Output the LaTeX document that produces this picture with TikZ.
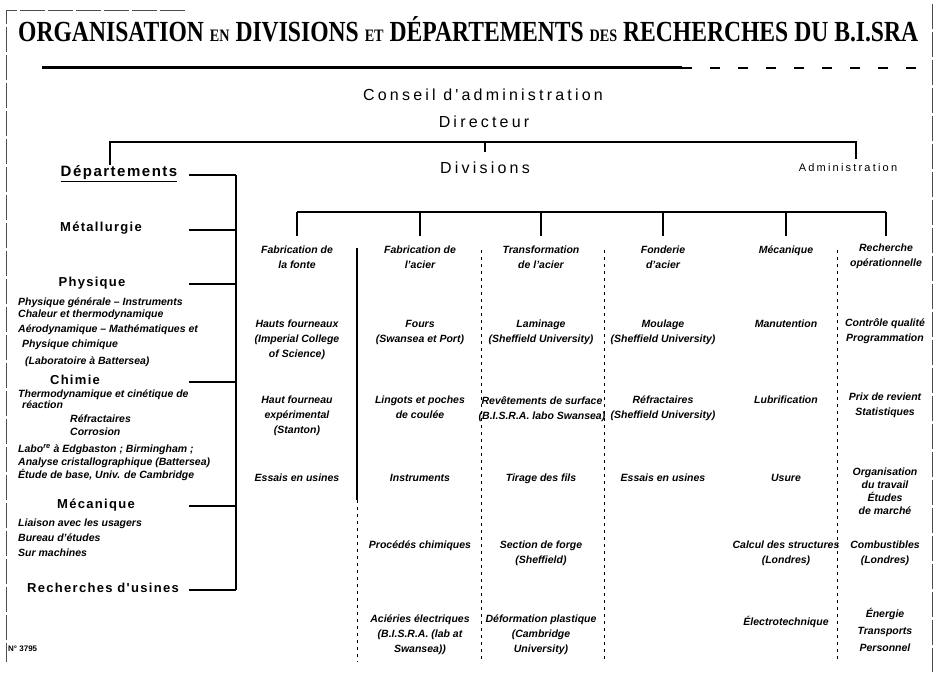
\documentclass[tikz,border=0pt]{standalone}
\usepackage{fontspec}
\setmainfont{Liberation Serif}
\setsansfont{Liberation Sans}
\newfontfamily\spaced[LetterSpace=20]{Liberation Sans}
\newfontfamily\deptfont[LetterSpace=10]{Liberation Sans}
\usetikzlibrary{positioning}

\begin{document}
\begin{tikzpicture}[x=1pt,y=-1pt]
  \tikzset{
    head/.style={font=\spaced\fontsize{16}{16}\selectfont, inner sep=1pt},
    dept/.style={font=\deptfont\bfseries\fontsize{13}{13}\selectfont, inner sep=1pt, anchor=base},
    item/.style={font=\sffamily\bfseries\itshape\fontsize{10.5}{15}\selectfont, inner sep=0pt, anchor=base west},
    cell/.style={font=\sffamily\bfseries\itshape\fontsize{10.5}{15}\selectfont, align=center, inner sep=0pt, anchor=north},
    link/.style={line width=1.7pt},
    colsep/.style={line width=0.8pt, dash pattern=on 3pt off 4pt},
    frame/.style={black!70, line width=0.6pt, dash pattern=on 25pt off 3pt},
  }
  \useasboundingbox (0,0) rectangle (938,682);
  \draw[frame] (185,10) -| (6,662);
  \draw[frame] (932,4) -- (932,672);

  % titre
  \node[anchor=base west, inner sep=0pt] (title) at (18,42)
    {\resizebox{900pt}{25pt}{\fontsize{20}{20}\selectfont\bfseries ORGANISATION {\fontsize{12}{12}\selectfont EN} DIVISIONS
     {\fontsize{12}{12}\selectfont ET} DÉPARTEMENTS {\fontsize{12}{12}\selectfont DES} RECHERCHES DU B.I.SRA}};
  \draw[line width=3pt] (42,68) -- (682,68);
  \draw[line width=1.5pt, dash pattern=on 10pt off 18pt] (682,68) -- (922,68);

  \node[head] (conseil) at (483,95) {Conseil d'administration};
  \node[head] (dir) at (484,122) {Directeur};
  \node[dept, font=\deptfont\bfseries\fontsize{15}{15}\selectfont] (depts) at (119,177) {\underline{Départements}};
  \node[head] (divs) at (485,168) {Divisions};
  \node[head, font=\spaced\fontsize{11}{11}\selectfont] (admin) at (848,168) {Administration};
  \coordinate (top) at (485,142);
  \draw[link] ([xshift=-9pt]depts.north) |- (top) -| ([xshift=8pt,yshift=4pt]admin.north);
  \draw[link] (top) -- ([yshift=9pt]divs.north);

  % departements
  \node[dept] (met) at (101,232) {Métallurgie};
  \node[dept] (phys) at (92,286) {Physique};
  \node[dept] (chim) at (75,384) {Chimie};
  \node[dept] (meca) at (96,508) {Mécanique};
  \node[dept] (rech) at (103,592) {Recherches d'usines};
  \coordinate (tick) at (189,0);
  \coordinate (spine) at (236,0);
  \draw[link] (depts.mid -| spine) -- (rech.mid -| spine);
  \foreach \n in {depts,met,phys,chim,meca,rech}
    \draw[link] (\n.mid -| tick) -- (\n.mid -| spine);

  \foreach \x/\y/\t [count=\i] in {18/305/{Physique générale – Instruments},
      18/317/{Chaleur et thermodynamique}, 18/332/{Aérodynamique – Mathématiques et},
      22/347/{Physique chimique}, 25/364/{(Laboratoire à Battersea)}}
    \node[item] (ph\i) at (\x,\y) {\t};
  \foreach \x/\y/\t [count=\i] in {18/397/{Thermodynamique et cinétique de},
      22/408/{réaction}, 70/422/{Réfractaires}, 70/435/{Corrosion},
      18/452/{Labo\textsuperscript{re} à Edgbaston ; Birmingham ;},
      18/465/{Analyse cristallographique (Battersea)},
      18/478/{Étude de base, Univ. de Cambridge}}
    \node[item] (ch\i) at (\x,\y) {\t};
  \foreach \x/\y/\t [count=\i] in {18/526/{Liaison avec les usagers},
      18/541/{Bureau d'études}, 18/556/{Sur machines}}
    \node[item] (me\i) at (\x,\y) {\t};

  % divisions
  \node[cell] (c1h) at (297,246) {Fabrication de\\la fonte};
  \node[cell] (c1a) at (297,320) {Hauts fourneaux\\(Imperial College\\of Science)};
  \node[cell] (c1b) at (297,396) {Haut fourneau\\expérimental\\(Stanton)};
  \node[cell] (c1c) at (297,474) {Essais en usines};

  \node[cell] (c2h) at (420,246) {Fabrication de\\l'acier};
  \node[cell] (c2a) at (420,320) {Fours\\(Swansea et Port)};
  \node[cell] (c2b) at (420,396) {Lingots et poches\\de coulée};
  \node[cell] (c2c) at (420,474) {Instruments};
  \node[cell] (c2d) at (420,541) {Procédés chimiques};
  \node[cell] (c2e) at (420,615) {Aciéries électriques\\(B.I.S.R.A. (lab at\\Swansea))};

  \node[cell] (c3h) at (541,246) {Transformation\\de l'acier};
  \node[cell] (c3a) at (541,320) {Laminage\\(Sheffield University)};
  \node[cell] (c3b) at (542,396) {Revêtements de surface\\(B.I.S.R.A. labo Swansea)};
  \node[cell] (c3c) at (541,474) {Tirage des fils};
  \node[cell] (c3d) at (541,541) {Section de forge\\(Sheffield)};
  \node[cell] (c3e) at (541,615) {Déformation plastique\\(Cambridge\\University)};

  \node[cell] (c4h) at (663,246) {Fonderie\\d'acier};
  \node[cell] (c4a) at (663,320) {Moulage\\(Sheffield University)};
  \node[cell] (c4b) at (663,396) {Réfractaires\\(Sheffield University)};
  \node[cell] (c4c) at (663,474) {Essais en usines};

  \node[cell] (c5h) at (786,246) {Mécanique};
  \node[cell] (c5a) at (786,320) {Manutention};
  \node[cell] (c5b) at (786,396) {Lubrification};
  \node[cell] (c5c) at (786,474) {Usure};
  \node[cell] (c5d) at (786,541) {Calcul des structures\\(Londres)};
  \node[cell] (c5e) at (786,616) {Électrotechnique};

  \node[cell] (c6h) at (886,244) {Recherche\\opérationnelle};
  \node[cell] (c6a) at (885,318) {Contrôle qualité\\Programmation};
  \node[cell] (c6b) at (885,393) {Prix de revient\\Statistiques};
  \node[cell, font=\sffamily\bfseries\itshape\fontsize{10.5}{13}\selectfont] (c6c) at (885,468) {Organisation\\du travail\\Études\\de marché};
  \node[cell] (c6d) at (885,541) {Combustibles\\(Londres)};
  \node[cell, font=\sffamily\bfseries\itshape\fontsize{10.5}{17}\selectfont] (c6e) at (885,608) {Énergie\\Transports\\Personnel};

  \coordinate (dbar) at (0,212);
  \draw[link] (c1h.north |- dbar) -- (c6h.north |- dbar);
  \foreach \c in {c1h,c2h,c3h,c4h,c5h,c6h}
    \draw[link] (\c.north |- dbar) -- ([yshift=10pt]\c.north |- c1h.north);
  \draw[link] (357,248) -- (357,500);
  \draw[colsep] (357,500) -- (357,662);
  \foreach \x in {481,604,837}
    \draw[colsep] (\x,250) -- (\x,662);

  \node[font=\sffamily\bfseries\fontsize{8}{8}\selectfont, anchor=base west, inner sep=0pt] (fig) at (8,651) {N° 3795};
\end{tikzpicture}
\end{document}
